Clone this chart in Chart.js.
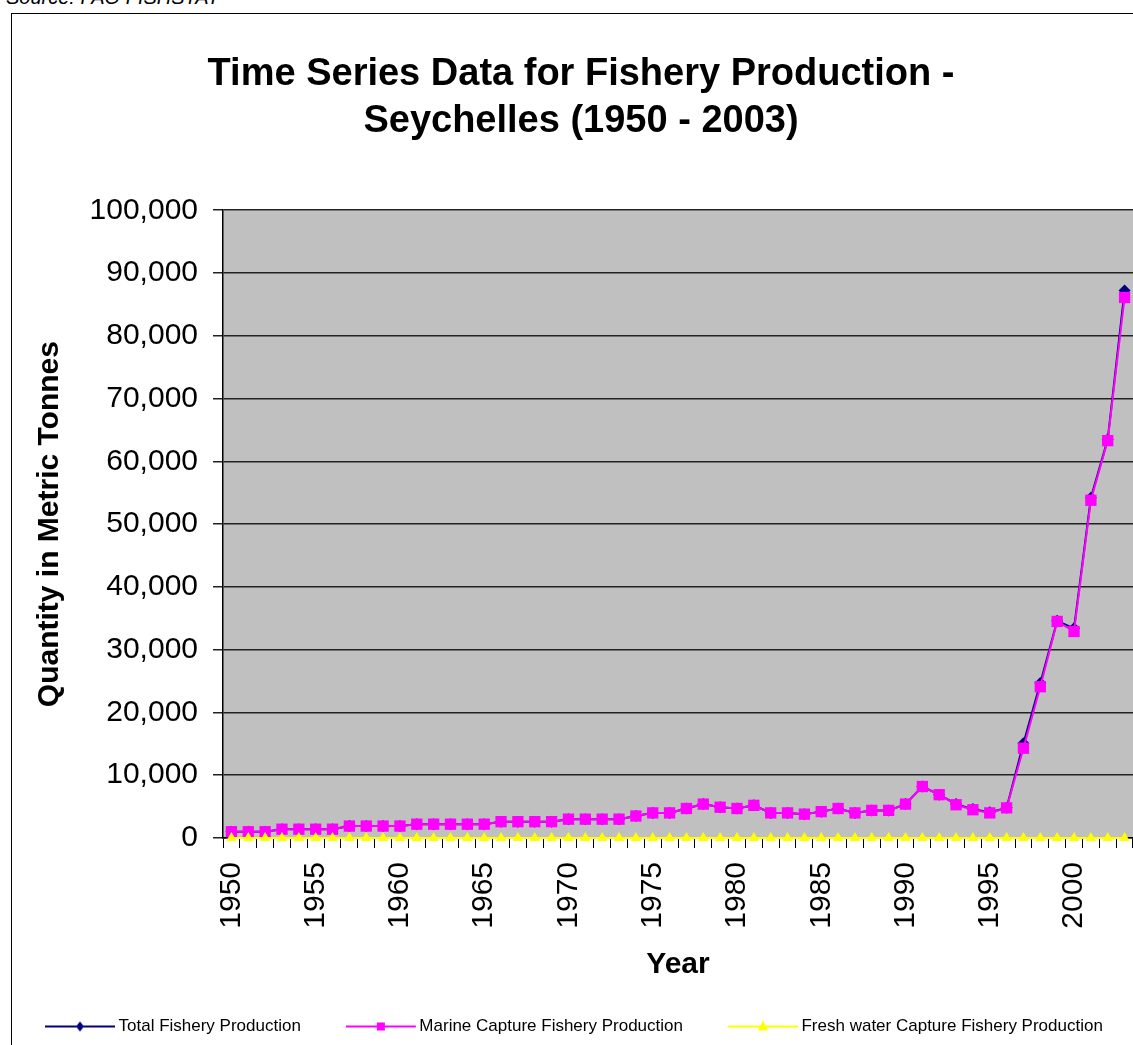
<!DOCTYPE html>
<html>
<head>
<meta charset="utf-8">
<title>Fishery Production - Seychelles</title>
<script src="https://cdn.jsdelivr.net/npm/chart.js@4.4.1/dist/chart.umd.min.js"></script>
<style>
  html, body { margin: 0; padding: 0; background: #fff; overflow: hidden; width: 1133px; height: 1045px; }
  #source { position: absolute; left: 6px; top: -14px; font: italic 20px Arial, "Liberation Sans", sans-serif; color: #000; white-space: nowrap; }
  #frame { position: absolute; left: 11px; top: 13px; width: 1200px; height: 1100px; border: 1px solid #000; }
  #wrap { position: absolute; left: 0; top: 0; width: 1162px; height: 1045px; }
</style>
</head>
<body>
<div id="source">Source: FAO FISHSTAT</div>
<div id="frame"></div>
<div id="wrap"><canvas id="chartFish" width="1162" height="1045"></canvas></div>
<script>
// Datos (toneladas métricas)
const years = [];
for (let y = 1950; y <= 2003; y++) years.push(String(y));

const totalProd = [
  1000, 1000, 1000, 1400, 1400, 1400, 1400, 1900, 1900, 1900,
  1900, 2200, 2200, 2200, 2200, 2200, 2600, 2600, 2600, 2600,
  3000, 3000, 3000, 3000, 3500, 4000, 4000, 4700, 5400, 4900,
  4700, 5200, 4000, 4000, 3800, 4200, 4700, 4000, 4400, 4400,
  5400, 8200, 6900, 5400, 4600, 4100, 4800, 15100, 24700, 34600,
  33400, 54200, 63500, 87200
];
const marineProd = [
  1000, 1000, 1000, 1400, 1400, 1400, 1400, 1900, 1900, 1900,
  1900, 2200, 2200, 2200, 2200, 2200, 2600, 2600, 2600, 2600,
  3000, 3000, 3000, 3000, 3500, 4000, 4000, 4700, 5400, 4900,
  4700, 5200, 4000, 4000, 3800, 4200, 4700, 4000, 4400, 4400,
  5400, 8200, 6900, 5300, 4500, 4000, 4800, 14300, 24100, 34500,
  32900, 53800, 63300, 86100
];
const freshProd = [
  0, 0, 0, 0, 0, 0, 0, 0, 0, 0,
  0, 0, 0, 0, 0, 0, 0, 0, 0, 0,
  0, 0, 0, 0, 0, 0, 0, 0, 0, 0,
  0, 0, 0, 0, 0, 0, 0, 0, 0, 0,
  0, 0, 0, 0, 0, 0, 0, 0, 0, 0,
  0, 0, 0, 0
];
const seriesNames = ['Total Fishery Production', 'Marine Capture Fishery Production', 'Fresh water Capture Fishery Production'];
const seriesColors = ['#000080', '#FF00FF', '#FFFF00'];
const seriesMarkers = ['rectRot', 'rect', 'triangle'];

const FONT = 'Arial, "Liberation Sans", sans-serif';

// Icono de leyenda: línea con marcador, pegado al texto (parte izquierda transparente)
function legendIcon(color, marker) {
  const c = document.createElement('canvas');
  c.width = 112; c.height = 16;
  const g = c.getContext('2d');
  g.strokeStyle = color; g.lineWidth = 2;
  g.beginPath(); g.moveTo(41, 8); g.lineTo(111, 8); g.stroke();
  g.fillStyle = color;
  const cx = 76, cy = 8;
  g.beginPath();
  if (marker === 'rectRot') {
    g.moveTo(cx, cy - 5); g.lineTo(cx + 4, cy); g.lineTo(cx, cy + 5); g.lineTo(cx - 4, cy);
  } else if (marker === 'rect') {
    g.rect(cx - 4, cy - 4, 8, 8);
  } else {
    g.moveTo(cx, cy - 6); g.lineTo(cx + 5, cy + 4); g.lineTo(cx - 5, cy + 4);
  }
  g.closePath(); g.fill();
  return c;
}

const plotBg = {
  id: 'plotBg',
  beforeDraw(chart) {
    const { ctx, chartArea: a } = chart;
    ctx.save();
    ctx.fillStyle = '#C0C0C0';
    ctx.fillRect(a.left, a.top, a.right - a.left, a.bottom - a.top);
    ctx.restore();
  }
};

const values = [totalProd, marineProd, freshProd];
const sizes = [6, 8, 6];
const orders = [3, 2, 1];

new Chart(document.getElementById('chartFish').getContext('2d'), {
  type: 'line',
  data: {
    labels: years,
    datasets: values.map((d, i) => ({
      label: seriesNames[i],
      data: d,
      borderColor: seriesColors[i],
      backgroundColor: seriesColors[i],
      pointBackgroundColor: seriesColors[i],
      pointBorderColor: seriesColors[i],
      pointStyle: seriesMarkers[i],
      pointRadius: sizes[i],
      pointBorderWidth: 0,
      borderWidth: 2,
      tension: 0,
      clip: false,
      order: orders[i]
    }))
  },
  options: {
    responsive: false,
    animation: false,
    devicePixelRatio: 1,
    layout: { padding: { left: 0, right: 0, top: 0, bottom: 0 } },
    plugins: {
      title: {
        display: true,
        text: ['Time Series Data for Fishery Production -', 'Seychelles (1950 - 2003)'],
        color: '#000',
        font: { family: FONT, size: 38, weight: 'bold', lineHeight: 1.24 },
        padding: { top: 51, bottom: 65 }
      },
      legend: {
        position: 'bottom',
        align: 'start',
        labels: {
          color: '#000',
          font: { family: FONT, size: 17 },
          usePointStyle: true,
          pointStyleWidth: 100,
          padding: 10,
          generateLabels: () => seriesNames.map((n, i) => ({
            text: n,
            fillStyle: seriesColors[i],
            strokeStyle: seriesColors[i],
            lineWidth: 0,
            pointStyle: legendIcon(seriesColors[i], seriesMarkers[i]),
            hidden: false,
            datasetIndex: i,
            fontColor: '#000'
          }))
        }
      },
      tooltip: { enabled: false }
    },
    scales: {
      x: {
        offset: true,
        afterFit: s => { s.height = 170; s.paddingLeft = 0; s.paddingRight = 0; },
        grid: { offset: true, drawOnChartArea: false, drawTicks: true, tickLength: 10, color: '#000', lineWidth: 1 },
        border: { display: true, color: '#000', width: 1.5 },
        ticks: {
          autoSkip: false, minRotation: 90, maxRotation: 90, padding: 14,
          color: '#000', font: { family: FONT, size: 30 },
          callback: function (v, i) { const y = years[i]; return (+y) % 5 === 0 ? y : ''; }
        },
        title: { display: true, text: 'Year', color: '#000', font: { family: FONT, size: 30, weight: 'bold' }, padding: { top: 0, bottom: 25 } }
      },
      y: {
        min: 0, max: 100000,
        afterFit: s => { s.width = 223; },
        grid: { color: '#222', lineWidth: 1.5, drawTicks: true, tickLength: 10 },
        border: { display: true, color: '#000', width: 1.5 },
        ticks: {
          stepSize: 10000, padding: 15, color: '#000', font: { family: FONT, size: 30 },
          callback: v => v.toLocaleString('en-US')
        },
        title: { display: true, text: 'Quantity in Metric Tonnes', color: '#000', font: { family: FONT, size: 30, weight: 'bold' }, padding: { top: 32, bottom: 0 } }
      },
      yRight: {
        position: 'right', display: true,
        afterFit: s => { s.width = 29; s.paddingTop = 0; s.paddingBottom = 0; },
        grid: { display: false, drawTicks: false },
        border: { display: false },
        ticks: { display: false }
      }
    }
  },
  plugins: [plotBg]
});
</script>
</body>
</html>
